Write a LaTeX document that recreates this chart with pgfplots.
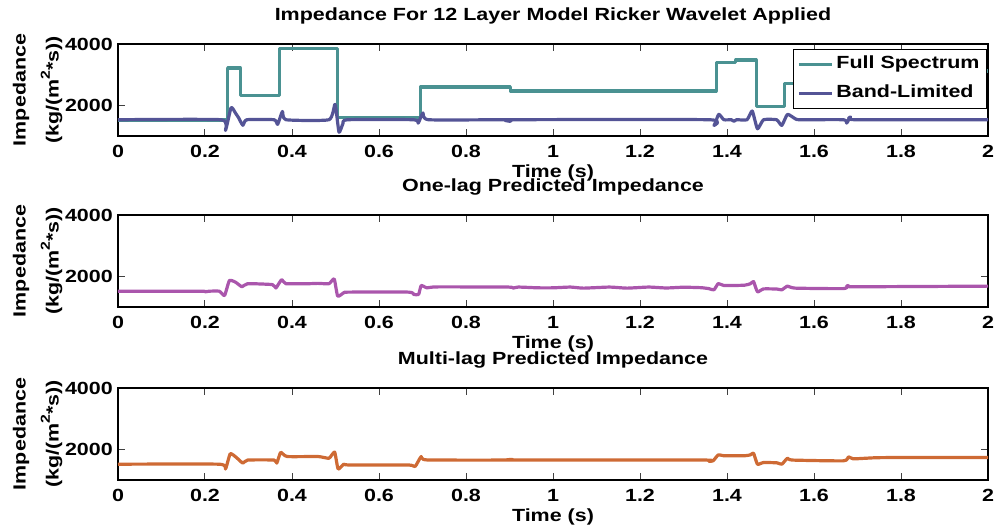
\documentclass[border=0pt]{standalone}
\usepackage{fontspec}
\setmainfont{Liberation Sans}[FakeStretch=1.22]
\usepackage{pgfplots}
\pgfplotsset{compat=1.18}

\definecolor{fullspec}{RGB}{74,146,146}
\definecolor{bandlim}{RGB}{84,84,150}
\definecolor{onelag}{RGB}{170,86,172}
\definecolor{multilag}{RGB}{206,106,52}

\newcommand{\lbl}{\fontsize{17.6}{21}\selectfont\bfseries}

\pgfplotsset{
  imp/.style={
    scale only axis, width=870pt, height=92pt,
    anchor=south west,
    xmin=0, xmax=2, ymin=1000, ymax=4000,
    xtick={0,0.2,0.4,0.6,0.8,1,1.2,1.4,1.6,1.8,2},
    xticklabels={0,0.2,0.4,0.6,0.8,1,1.2,1.4,1.6,1.8,2},
    ytick={2000,4000}, yticklabels={2000,4000},
    tick align=inside, major tick length=7pt,
    tick style={line width=1pt, color=black!75},
    axis line style={line width=1.3pt},
    /pgf/number format/assume math mode=true,
    every tick label/.append style={font=\lbl},
    xticklabel style={anchor=base, yshift=-22pt, inner sep=0pt},
    yticklabel style={anchor=east, inner sep=0pt, xshift=-5pt},
    xlabel={Time (s)},
    xlabel style={at={(axis description cs:0.5,0)}, anchor=base, yshift=-42pt, font=\lbl, inner sep=0pt},
    ylabel={Impedance\\(kg/(m\raisebox{0.5em}{\fontsize{13}{13}\selectfont 2}*s))},
    ylabel style={at={(axis description cs:-0.0638,0.5)}, anchor=south, align=center,
      font=\fontsize{17.6}{33}\selectfont\bfseries, inner sep=0pt},
    title style={at={(axis description cs:0.5,1)}, anchor=base, yshift=17pt, font=\lbl, inner sep=0pt},
    every axis plot/.append style={line width=3.2pt, line join=round},
  }
}

\begin{document}
\begin{tikzpicture}
\useasboundingbox (0pt,0pt) rectangle (997pt,532pt);

% Reflectivity model: full-spectrum vs band-limited impedance
\begin{axis}[imp, at={(118pt,396pt)},
  title={Impedance For 12 Layer Model Ricker Wavelet Applied},
  legend style={at={(axis description cs:0.9989,0.946)}, anchor=north east,
    draw=black, line width=1pt, font=\lbl, inner sep=4pt, row sep=7pt,
    nodes={inner sep=3pt, text height=12.5pt, text depth=3.5pt}},
  legend cell align=left,
  legend image code/.code={\draw[#1, line width=3.2pt] (0pt,0pt) -- (33pt,0pt);},
]
\addplot[fullspec] coordinates {
  (0,1520) (0.252,1520) (0.252,3220) (0.281,3220) (0.281,2310) (0.371,2310)
  (0.371,3840) (0.505,3840) (0.505,1600) (0.695,1600) (0.695,2600) (0.902,2600)
  (0.902,2470) (1.375,2470) (1.375,3400) (1.420,3400) (1.420,3475) (1.467,3475)
  (1.467,1970) (1.532,1970) (1.532,2700) (1.680,2700) (1.680,3120) (2,3120)
};
\addlegendentry{Full Spectrum}
\addplot[bandlim, smooth, tension=0.3] coordinates {
  (0,1530) (0.237,1530) (0.247,1180) (0.260,1925) (0.270,1750) (0.277,1600)
  (0.287,1350) (0.296,1530) (0.359,1530) (0.367,1380) (0.378,1800) (0.386,1530)
  (0.485,1530) (0.499,2030) (0.508,1125) (0.517,1400) (0.527,1530) (0.680,1530)
  (0.690,1420) (0.701,1750) (0.714,1530) (0.896,1530) (0.901,1480) (0.908,1530)
  (1.359,1530) (1.370,1345) (1.381,1705) (1.393,1530) (1.410,1530) (1.416,1480)
  (1.422,1530) (1.446,1530) (1.458,1815) (1.470,1235) (1.484,1530) (1.514,1530)
  (1.526,1345) (1.539,1705) (1.557,1560) (1.568,1530) (1.668,1530) (1.675,1420)
  (1.684,1620) (1.694,1530) (2,1530)
};
\addlegendentry{Band-Limited}
\end{axis}

% Prediction from a single lag
\begin{axis}[imp, at={(118pt,225pt)},
  title={One-lag Predicted Impedance}]
\addplot[onelag, smooth, tension=0.3] coordinates {
  (0,1515) (0.19,1515) (0.20,1495) (0.21,1515) (0.233,1515) (0.245,1375)
  (0.256,1860) (0.270,1810) (0.285,1660) (0.298,1760) (0.355,1730) (0.363,1620)
  (0.376,1890) (0.386,1760) (0.439,1760) (0.46,1770) (0.485,1760) (0.497,1915)
  (0.505,1355) (0.519,1465) (0.530,1485) (0.668,1485) (0.680,1410) (0.691,1410)
  (0.697,1700) (0.710,1625) (0.733,1655) (0.897,1650) (0.908,1615) (0.92,1650)
  (0.966,1625) (1.0,1625) (1.04,1650) (1.07,1615) (1.13,1650) (1.17,1615)
  (1.22,1650) (1.26,1620) (1.30,1645) (1.34,1630) (1.358,1600) (1.370,1560)
  (1.380,1765) (1.393,1700) (1.44,1710) (1.454,1760) (1.461,1830) (1.470,1495)
  (1.484,1590) (1.515,1585) (1.526,1560) (1.539,1680) (1.557,1615) (1.668,1600)
  (1.679,1700) (1.69,1660) (2.0,1680)
};
\end{axis}

% Prediction from several lags
\begin{axis}[imp, at={(118pt,52pt)},
  title={Multi-lag Predicted Impedance}]
\addplot[multilag, smooth, tension=0.3] coordinates {
  (0,1515) (0.233,1515) (0.247,1360) (0.258,1855) (0.272,1735) (0.287,1550)
  (0.298,1650) (0.359,1650) (0.365,1550) (0.374,1900) (0.389,1765) (0.46,1765)
  (0.485,1710) (0.498,1910) (0.506,1360) (0.519,1515) (0.530,1490) (0.668,1490)
  (0.683,1440) (0.697,1765) (0.710,1655) (0.90,1650) (0.905,1670) (0.91,1650)
  (1.347,1650) (1.358,1610) (1.368,1625) (1.380,1820) (1.393,1790) (1.44,1790)
  (1.454,1820) (1.461,1875) (1.470,1515) (1.484,1570) (1.515,1560) (1.526,1515)
  (1.539,1710) (1.55,1650) (1.668,1625) (1.679,1755) (1.69,1690) (1.72,1710)
  (1.76,1730) (2,1735)
};
\end{axis}
\end{tikzpicture}
\end{document}
